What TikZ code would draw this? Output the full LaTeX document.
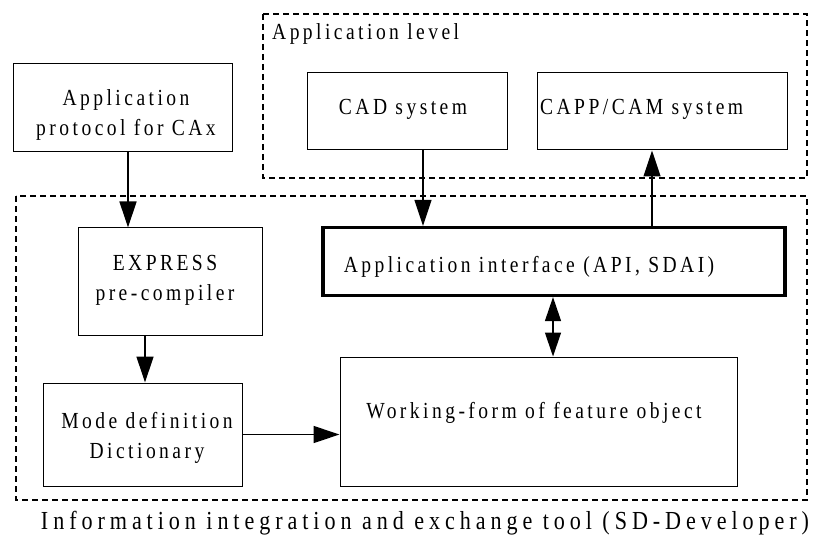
\documentclass[tikz,border=0pt]{standalone}
\usepackage{fontspec}
\setmainfont{Liberation Serif}[LetterSpace=15,FakeStretch=0.85]
\newfontfamily\capfont{Liberation Serif}[LetterSpace=19,FakeStretch=0.85]
\usetikzlibrary{arrows.meta}
\begin{document}
\begin{tikzpicture}[x=1pt,y=-1pt,
  box/.style={draw,line width=1pt,inner sep=0pt},
  txt/.style={font=\fontsize{23}{30}\selectfont,align=center,inner sep=0pt},
  group/.style={draw,line width=1.4pt,dash pattern=on 6pt off 4pt},
  arr/.style={line width=1.3pt,-{Triangle[length=26pt,width=17pt]}},
  darr/.style={line width=1.3pt,{Triangle[length=24pt,width=16pt]}-{Triangle[length=24pt,width=16pt]}}]
\useasboundingbox (0,0) rectangle (821,545);
% groups
\draw[group] (263,14) rectangle (807,178);
\draw[group] (16,196) rectangle (807,500);
\node[txt,anchor=west] (lvl) at (272,34) {Application level};
% boxes
\node[box,minimum width=219pt,minimum height=88pt] (ap) at (122.5,108) {};
\node[txt] (aptxt) at (126,115) {Application\\protocol for CAx};
\node[box,minimum width=200pt,minimum height=77pt] (cad) at (407,111.5) {};
\node[txt] (cadtxt) at (403,109) {CAD system};
\node[box,minimum width=250pt,minimum height=77pt] (capp) at (662,111.5) {};
\node[txt,anchor=west] (capptxt) at (540,109) {CAPP/CAM system};
\node[box,minimum width=184pt,minimum height=107pt] (exp) at (170,281.5) {};
\node[txt] (exptxt) at (165,280) {EXPRESS\\pre-compiler};
\node[draw,line width=3.2pt,minimum width=462pt,minimum height=68pt,inner sep=0pt] (api) at (554,261.5) {};
\node[txt] (apitxt) at (529,267) {Application interface (API, SDAI)};
\node[box,minimum width=397pt,minimum height=129pt] (work) at (538.5,421.5) {};
\node[txt] (worktxt) at (534,413) {Working-form of feature object};
\node[box,minimum width=199pt,minimum height=103pt] (mode) at (142.5,434.5) {};
\node[txt] (modetxt) at (147,438) {Mode definition\\Dictionary};
\node[font=\capfont\fontsize{26}{30}\selectfont] (cap) at (425,523) {Information integration and exchange tool (SD-Developer)};
% connectors
\draw[arr] (ap.south -| 128,0) -- (exp.north -| 128,0);
\draw[arr] (exp.south -| 145,0) -- (mode.north -| 145,0);
\draw[arr] (cad.south -| 423,0) -- (api.north -| 423,0);
\draw[arr] (api.north -| 652,0) -- (capp.south -| 652,0);
\draw[darr] (api.south -| 553,0) -- (work.north -| 553,0);
\draw[arr] (mode.east) -- (mode.east -| work.west);
\end{tikzpicture}
\end{document}
